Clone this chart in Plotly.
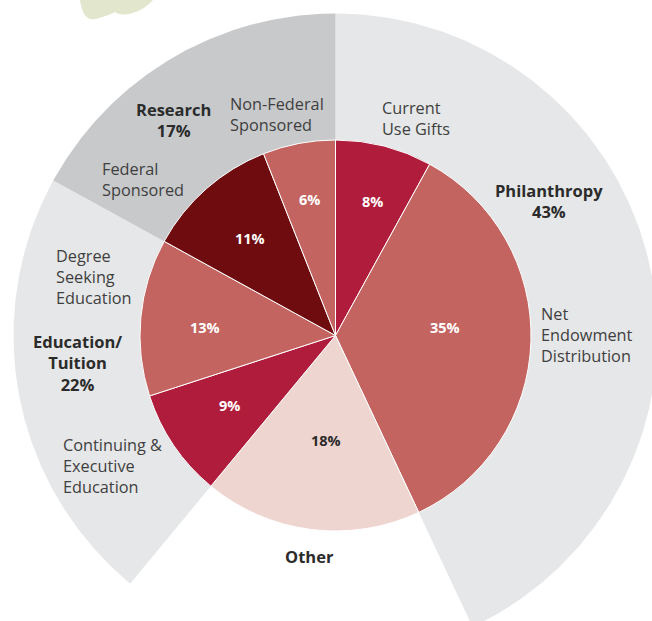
import numpy as np
import plotly.graph_objects as go

# ---- data -------------------------------------------------------------
sources = ["Current Use Gifts", "Net Endowment Distribution", "Other",
           "Continuing & Executive Education", "Degree Seeking Education",
           "Federal Sponsored", "Non-Federal Sponsored"]
source_shares = [8, 35, 18, 9, 13, 11, 6]

groups = ["Philanthropy", "Other", "Education/Tuition", "Research"]
group_shares = [43, 18, 22, 17]

# ---- styling ----------------------------------------------------------
slice_colors = ["#b01c3c", "#c46461", "#efd5d0", "#b01c3c",
                "#c46461", "#6e0c10", "#c46461"]
slice_text_colors = ["white", "white", "#2b2b2b", "white",
                     "white", "white", "white"]
label_radius = [0.71, 0.56, 0.54, 0.65, 0.67, 0.66, 0.71]  # fraction of pie radius
label_turn = [1, -6, -2, 1, -2, 0, 0]                       # degrees off the bisector
ring_colors = ["#e6e7e8", None, "#e6e7e8", "#c8c9cb"]       # None = no band

W, H = 652, 621
CX, CY = 335.5, 335.5          # pie centre in page pixels
R_PIE = 195.5
R_RING = 322

FONT = "Open Sans"
DARK = "#2b2b2b"
GREY = "#3f3f3f"


def px(x, y):
    """page pixel -> data coordinates (centre at origin, y up)"""
    return x - CX, CY - y


fig = go.Figure()

# outer ring: one wedge per group, sized by the group's share
start = 0.0
for name, share, col in zip(groups, group_shares, ring_colors):
    end = start + share / 100
    if col is not None:
        t = np.linspace(start, end, 200) * 2 * np.pi
        xs = np.concatenate([[0], R_RING * np.sin(t), [0]])
        ys = np.concatenate([[0], R_RING * np.cos(t), [0]])
        fig.add_trace(go.Scatter(x=xs, y=ys, fill="toself", fillcolor=col,
                                 mode="lines", line=dict(width=0),
                                 hoverinfo="skip", showlegend=False, name=name))
    start = end

# inner pie
fig.add_trace(go.Pie(
    labels=sources, values=source_shares, sort=False, direction="clockwise",
    rotation=0, textinfo="none", hoverinfo="label+percent",
    marker=dict(colors=slice_colors, line=dict(color="white", width=1)),
    domain=dict(x=[(CX - R_PIE) / W, (CX + R_PIE) / W],
                y=[(H - CY - R_PIE) / H, (H - CY + R_PIE) / H]),
    showlegend=False,
))

annotations = []

# percentage labels inside the slices
cum = 0.0
total = sum(source_shares)
for v, tc, rf, turn in zip(source_shares, slice_text_colors, label_radius, label_turn):
    mid = (cum + v / 2) / total * 2 * np.pi + np.radians(turn)
    cum += v
    annotations.append(dict(
        x=rf * R_PIE * np.sin(mid), y=rf * R_PIE * np.cos(mid),
        text=f"<b>{v}%</b>", showarrow=False,
        font=dict(family=FONT, size=14.5, color=tc)))

# group headings (bold) and source names
group_labels = [
    ("Philanthropy<br>43%", 549, 201),
    ("Research<br>17%", 173, 120),
    ("Education/<br>Tuition<br>22%", 77, 363),
    ("Other", 309, 556),
]
for txt, x, y in group_labels:
    ax, ay = px(x, y)
    annotations.append(dict(x=ax, y=ay, text=f"<b>{txt}</b>", showarrow=False,
                            align="center", xanchor="center", yanchor="middle",
                            font=dict(family=FONT, size=16.5, color=DARK)))

source_labels = [
    ("Current<br>Use Gifts", 380, 118.5),
    ("Net<br>Endowment<br>Distribution", 539, 335),
    ("Non-Federal<br>Sponsored", 228, 114.5),
    ("Federal<br>Sponsored", 100, 179),
    ("Degree<br>Seeking<br>Education", 54, 277),
    ("Continuing &<br>Executive<br>Education", 61, 466),
]
for txt, x, y in source_labels:
    ax, ay = px(x, y)
    annotations.append(dict(x=ax, y=ay, text=txt, showarrow=False,
                            align="left", xanchor="left", yanchor="middle",
                            font=dict(family=FONT, size=16.3, color=GREY)))

# decorative leaf at the top-left edge
blob = "M {} {} ".format(*px(80, 0))
for a, b, c, d in [(83, 22, 96, 19), (110, 15, 115, 12),
                   (122, 17, 136, 12), (146, 8, 153, 0)]:
    p1, p2 = px(a, b), px(c, d)
    blob += f"Q {p1[0]} {p1[1]} {p2[0]} {p2[1]} "
blob += "Z"

fig.update_layout(
    width=W, height=H, margin=dict(l=0, r=0, t=0, b=0),
    paper_bgcolor="white", plot_bgcolor="white",
    xaxis=dict(range=[-CX, W - CX], visible=False, fixedrange=True),
    yaxis=dict(range=[CY - H, CY], visible=False, fixedrange=True),
    annotations=annotations,
    shapes=[dict(type="path", path=blob, xref="x", yref="y",
                 fillcolor="#e2e6cd", line=dict(width=0), layer="below")],
)

fig.write_html("out.html")
